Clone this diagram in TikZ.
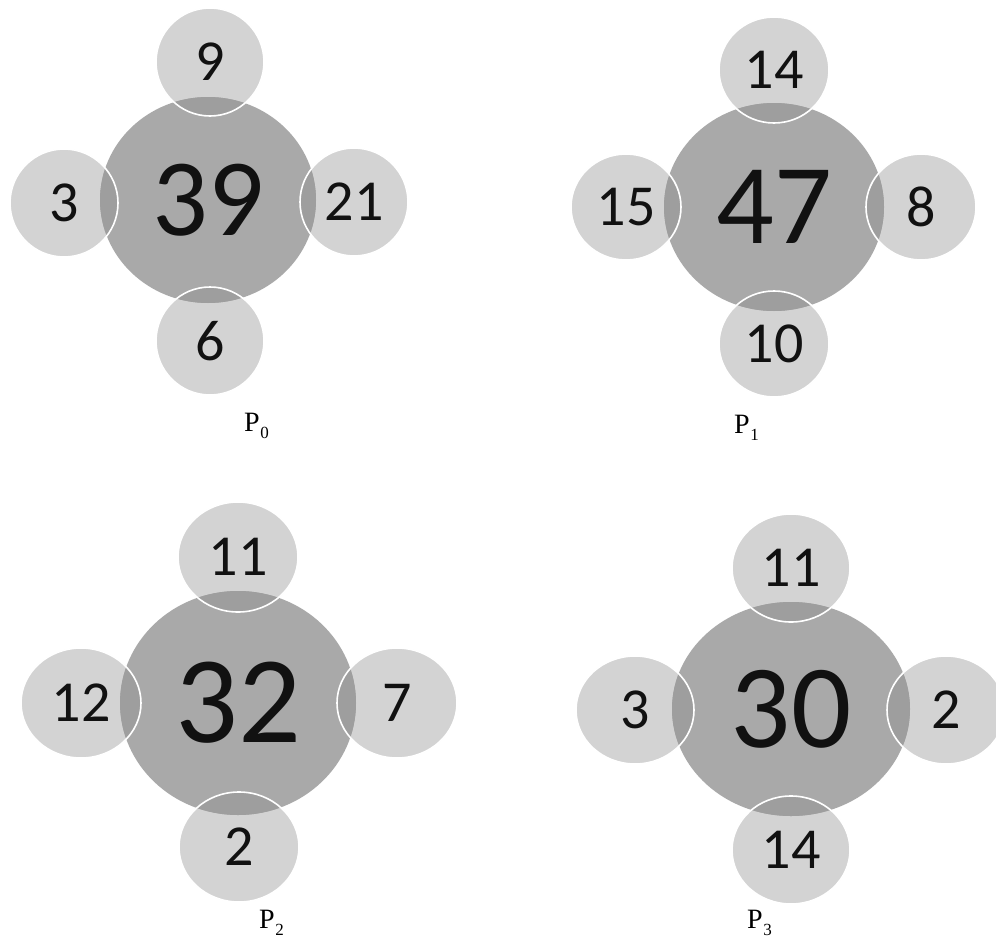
\documentclass[tikz,border=0pt]{standalone}
\usepackage{fontspec}
\newfontfamily\digitfont{Carlito}
\newfontfamily\labfont{Liberation Serif}
\usetikzlibrary{shapes.geometric}
\definecolor{smallgray}{HTML}{D3D3D3}
\definecolor{biggray}{HTML}{A9A9A9}
\definecolor{ovlgray}{HTML}{9E9E9E}
\definecolor{digitink}{HTML}{111111}
\newcommand\psub[1]{P\kern0.5pt\raisebox{-0.26em}{\fontsize{17}{17}\selectfont #1}}
\tikzset{
  smallc/.style={ellipse, fill=smallgray, inner sep=0pt, text=digitink,
    font=\digitfont\fontsize{58}{58}\selectfont},
  bigc/.style={ellipse, fill=biggray, inner sep=0pt, text=digitink},
  ovl/.style={fill=ovlgray},
  ring/.style={draw=white, line width=1.6pt},
  plabel/.style={anchor=base west, inner sep=0pt, font=\labfont\fontsize{28}{28}\selectfont}
}
\begin{document}
\begin{tikzpicture}[x=1pt,y=-1pt]
\useasboundingbox (0,0) rectangle (996,950);
\clip (0,0) rectangle (996,950);
\fill[white] (0,0) rectangle (996,950);

% ---------------- P0 ----------------
\node[smallc, minimum width=108pt, minimum height=108pt] (a-t) at (210,62) {9};
\node[smallc, minimum width=108pt, minimum height=108pt] (a-l) at (64,203) {3};
\node[smallc, minimum width=108pt, minimum height=108pt] (a-r) at (354,202) {21};
\node[smallc, minimum width=108pt, minimum height=108pt] (a-b) at (210,341) {6};
\node[bigc, minimum width=216pt, minimum height=206pt,
  font=\digitfont\fontsize{110}{110}\selectfont] (a-c) at (208,200) {39};
\begin{scope}
  \clip (a-c.center) ellipse [x radius=108, y radius=103];
  \fill[ovl] (a-t.center) ellipse [x radius=54, y radius=54];
  \fill[ovl] (a-l.center) ellipse [x radius=54, y radius=54];
  \fill[ovl] (a-r.center) ellipse [x radius=54, y radius=54];
  \fill[ovl] (a-b.center) ellipse [x radius=54, y radius=54];
\end{scope}
\draw[ring] (a-t.center) ellipse [x radius=54, y radius=54];
\draw[ring] (a-l.center) ellipse [x radius=54, y radius=54];
\draw[ring] (a-r.center) ellipse [x radius=54, y radius=54];
\draw[ring] (a-b.center) ellipse [x radius=54, y radius=54];
\node[plabel] (a-p) at (244,431) {\psub{0}};

% ---------------- P1 ----------------
\node[smallc, minimum width=110pt, minimum height=106pt] (b-t) at (774,70) {14};
\node[smallc, minimum width=110pt, minimum height=106pt] (b-l) at (626,207) {15};
\node[smallc, minimum width=110pt, minimum height=106pt] (b-r) at (921,207) {8};
\node[smallc, minimum width=110pt, minimum height=106pt] (b-b) at (774,344) {10};
\node[bigc, minimum width=220pt, minimum height=208pt,
  font=\digitfont\fontsize{114}{114}\selectfont] (b-c) at (774,207) {47};
\begin{scope}
  \clip (b-c.center) ellipse [x radius=110, y radius=104];
  \fill[ovl] (b-t.center) ellipse [x radius=55, y radius=53];
  \fill[ovl] (b-l.center) ellipse [x radius=55, y radius=53];
  \fill[ovl] (b-r.center) ellipse [x radius=55, y radius=53];
  \fill[ovl] (b-b.center) ellipse [x radius=55, y radius=53];
\end{scope}
\draw[ring] (b-t.center) ellipse [x radius=55, y radius=53];
\draw[ring] (b-l.center) ellipse [x radius=55, y radius=53];
\draw[ring] (b-r.center) ellipse [x radius=55, y radius=53];
\draw[ring] (b-b.center) ellipse [x radius=55, y radius=53];
\node[plabel] (b-p) at (734,433) {\psub{1}};

% ---------------- P2 ----------------
\node[smallc, minimum width=120pt, minimum height=110pt] (c-t) at (238,557) {11};
\node[smallc, minimum width=120pt, minimum height=110pt] (c-l) at (81,703) {12};
\node[smallc, minimum width=120pt, minimum height=110pt] (c-r) at (397,703) {7};
\node[smallc, minimum width=120pt, minimum height=110pt] (c-b) at (239,847) {2};
\node[bigc, minimum width=236pt, minimum height=224pt,
  font=\digitfont\fontsize{124}{124}\selectfont] (c-c) at (238,703) {32};
\begin{scope}
  \clip (c-c.center) ellipse [x radius=118, y radius=112];
  \fill[ovl] (c-t.center) ellipse [x radius=60, y radius=55];
  \fill[ovl] (c-l.center) ellipse [x radius=60, y radius=55];
  \fill[ovl] (c-r.center) ellipse [x radius=60, y radius=55];
  \fill[ovl] (c-b.center) ellipse [x radius=60, y radius=55];
\end{scope}
\draw[ring] (c-t.center) ellipse [x radius=60, y radius=55];
\draw[ring] (c-l.center) ellipse [x radius=60, y radius=55];
\draw[ring] (c-r.center) ellipse [x radius=60, y radius=55];
\draw[ring] (c-b.center) ellipse [x radius=60, y radius=55];
\node[plabel] (c-p) at (259,928) {\psub{2}};

% ---------------- P3 ----------------
\node[smallc, minimum width=118pt, minimum height=108pt] (d-t) at (791,568) {11};
\node[smallc, minimum width=118pt, minimum height=108pt] (d-l) at (635,710) {3};
\node[smallc, minimum width=118pt, minimum height=108pt] (d-r) at (946,710) {2};
\node[smallc, minimum width=118pt, minimum height=108pt] (d-b) at (791,850) {14};
\node[bigc, minimum width=238pt, minimum height=214pt,
  font=\digitfont\fontsize{119}{119}\selectfont] (d-c) at (791,709) {30};
\begin{scope}
  \clip (d-c.center) ellipse [x radius=119, y radius=107];
  \fill[ovl] (d-t.center) ellipse [x radius=59, y radius=54];
  \fill[ovl] (d-l.center) ellipse [x radius=59, y radius=54];
  \fill[ovl] (d-r.center) ellipse [x radius=59, y radius=54];
  \fill[ovl] (d-b.center) ellipse [x radius=59, y radius=54];
\end{scope}
\draw[ring] (d-t.center) ellipse [x radius=59, y radius=54];
\draw[ring] (d-l.center) ellipse [x radius=59, y radius=54];
\draw[ring] (d-r.center) ellipse [x radius=59, y radius=54];
\draw[ring] (d-b.center) ellipse [x radius=59, y radius=54];
\node[plabel] (d-p) at (747,928) {\psub{3}};
\end{tikzpicture}
\end{document}
